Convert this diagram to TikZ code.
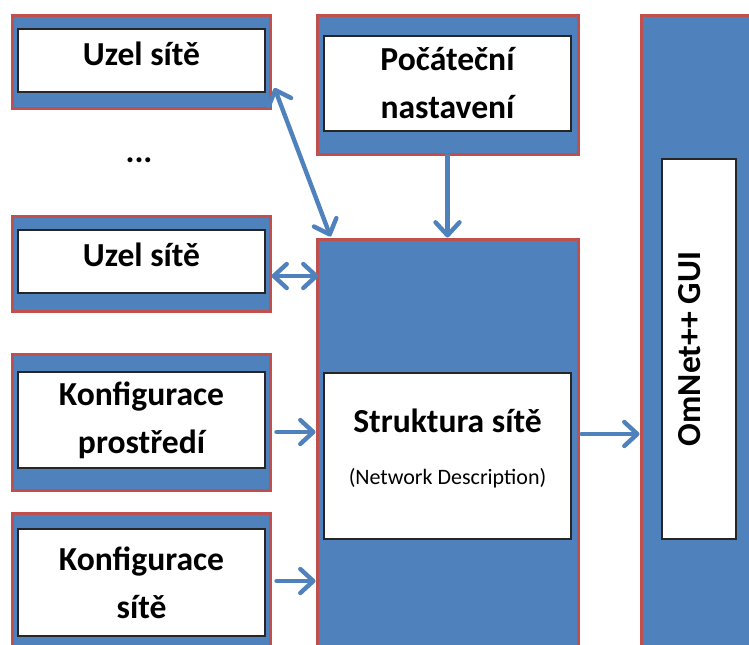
\documentclass[tikz,border=0pt]{standalone}
\usepackage{fontspec}
\setmainfont{Carlito}
\usepackage{xcolor}
\usepackage{tikz}
\usetikzlibrary{
  arrows.meta,
  calc
}
\definecolor{boxblue}{HTML}{4F81BD}
\definecolor{boxred}{HTML}{C0504D}
\definecolor{boxline}{HTML}{262626}
\tikzset{
  outer/.style={
    draw=boxred,
    fill=boxblue,
    line width=1.5pt,
    inner sep=0pt},
  inner/.style={
    draw=boxline,
    fill=white,
    line width=0.6pt,
    inner sep=0pt,
    align=center,
    font=\fontsize{16.8}{24}\selectfont\bfseries},
  link/.style={
    draw=boxblue,
    line width=2.2pt,
    line cap=round,
    >={Straight Barb[length=6.5pt,width=12pt,round]}}
  }

\begin{document}
\begin{tikzpicture}[x=0.5pt,y=-0.5pt]
      \clip (0,0) rectangle (749,644);
      % left column
      \node [outer, minimum width=129pt, minimum height=46.5pt] (uz1) at (141,62) {};
      \node [inner, minimum width=123.5pt, minimum height=31.5pt, text depth=7pt] (uz1t) at (141.5,60.5) {Uzel sítě};
      \node [font=\fontsize{16.8}{24}\selectfont\bfseries] (dots) at (139,160) {...};
      \node [outer, minimum width=129pt, minimum height=47.5pt] (uz2) at (141,263.5) {};
      \node [inner, minimum width=123.5pt, minimum height=31.5pt, text depth=7pt] (uz2t) at (141.5,261.5) {Uzel sítě};
      \node [outer, minimum width=129pt, minimum height=68pt] (kp) at (141,422) {};
      \node [inner, minimum width=123.5pt, minimum height=48pt] (kpt) at (141.5,420) {Konfigurace\\prostředí};
      \node [outer, minimum width=129pt, minimum height=77pt] (ks) at (141,590) {};
      \node [inner, minimum width=123.5pt, minimum height=53.5pt] (kst) at (141.5,582.5) {Konfigurace\\sítě};
      % middle column
      \node [outer, minimum width=130.5pt, minimum height=69.5pt] (pn) at (447.5,84.5) {};
      \node [inner, minimum width=123.5pt, minimum height=47.5pt] (pnt) at (447.5,83.5) {Počáteční\\nastavení};
      \node [outer, minimum width=130.5pt, minimum height=214pt] (st) at (447.5,453) {};
      \node [inner, minimum width=123.5pt, minimum height=83pt, text depth=9pt] (stt) at (447.5,456)
        {Struktura sítě\\[2pt]{\fontsize{11}{13}\selectfont\mdseries (Network Description)}};
      % right column
      \node [outer, minimum width=67pt, minimum height=326pt] (gui) at (708,341) {};
      \node [inner, rotate=90, minimum width=190pt, minimum height=37pt, text depth=10pt] (guit) at (699,349) {OmNet++ GUI};
      % connectors
      \coordinate (uz2r) at ([shift={(0,12.5)}]uz2.east);
      \coordinate (kpr) at ([shift={(5,10)}]kp.east);
      \coordinate (ksr) at ([shift={(5,-9)}]ks.east);
      \coordinate (str) at ([shift={(2,-19)}]st.east);
      \draw [link, <->] ([shift={(3,26)}]uz1.east) to ([shift={(15,-1)}]st.north west);
      \draw [link, <->] (uz2r) to ([xshift=1.5pt]uz2r -| st.west);
      \draw [link, ->] (pn.south) to (st.north);
      \draw [link, ->] (kpr) to (kpr -| st.west);
      \draw [link, ->] (ksr) to (ksr -| st.west);
      \draw [link, ->] (str) to (str -| gui.west);
    \end{tikzpicture}
\end{document}
